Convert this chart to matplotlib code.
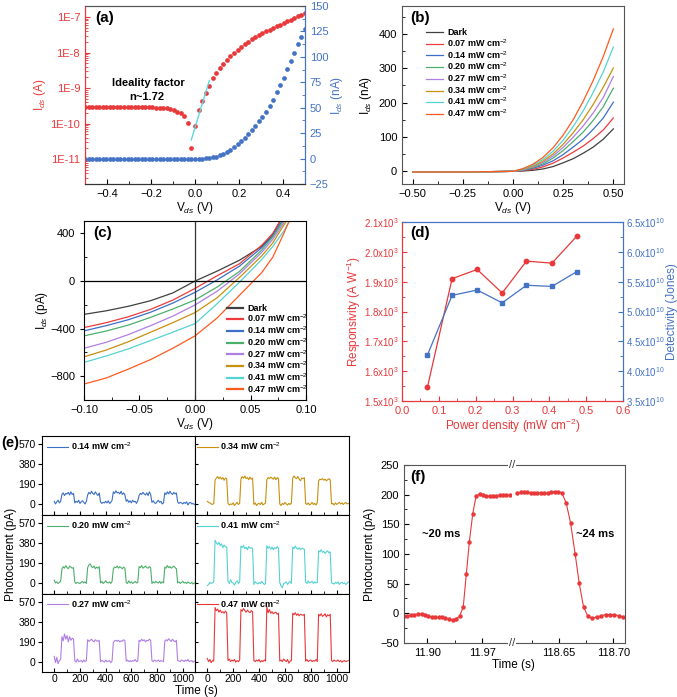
import numpy as np
import matplotlib
matplotlib.use('Agg')
import matplotlib.pyplot as plt
from matplotlib.ticker import MultipleLocator, FixedLocator, FuncFormatter, LogLocator, NullFormatter

plt.rcParams['font.family'] = ['Liberation Sans', 'DejaVu Sans']
plt.rcParams['mathtext.fontset'] = 'custom'
plt.rcParams['mathtext.rm'] = 'Liberation Sans'
plt.rcParams['mathtext.it'] = 'Liberation Sans:italic'
plt.rcParams['mathtext.bf'] = 'Liberation Sans:bold'
plt.rcParams['font.size'] = 8
plt.rcParams['axes.linewidth'] = 0.8

# ---------------- data ----------------
# (a) diode curve, log |I| (A) and linear I (nA), 63 points from -0.5 V to 0.5 V
a_log = [-9.52, -9.53, -9.53, -9.52, -9.53, -9.53, -9.53, -9.52, -9.53, -9.53, -9.53,
         -9.52, -9.52, -9.52, -9.52, -9.53, -9.53, -9.53, -9.54, -9.54, -9.55, -9.56,
         -9.56, -9.57, -9.59, -9.62, -9.66, -9.71, -9.80, -9.99, -10.69,
         -10.06, -9.62, -9.35, -9.14, -8.95, -8.72, -8.57, -8.44, -8.31, -8.20, -8.11,
         -8.01, -7.92, -7.84, -7.76, -7.69, -7.63, -7.56, -7.51, -7.45, -7.40, -7.36,
         -7.31, -7.26, -7.22, -7.17, -7.12, -7.08, -7.03, -6.98, -6.93, -6.89]
a_lin = [0] * 34 + [0.3, 0.6, 1.2, 2.0, 3.1, 4.4, 6.0, 8.3, 11.0, 14.0, 17.0, 20.5, 24.0,
                    28.0, 32.0, 36.5, 41.0, 45.5, 51.5, 58.0, 65.0, 72.0, 79.5, 88.0,
                    96.0, 104.0, 113.0, 120.0, 127.0]
fit_v = [-0.017, 0.065]
fit_log = [-10.46, -8.79]

# (b) I-V under light (nA)
labels = ['Dark', '0.07 mW cm$^{-2}$', '0.14 mW cm$^{-2}$', '0.20 mW cm$^{-2}$',
          '0.27 mW cm$^{-2}$', '0.34 mW cm$^{-2}$', '0.41 mW cm$^{-2}$', '0.47 mW cm$^{-2}$']
colors = ['#404040', '#ee3b3b', '#3b6fc8', '#4caf6c', '#b07fe4', '#c8900c', '#55d2d2', '#ff5a1e']
b_v = [-0.5, -0.25, 0.0, 0.05, 0.10, 0.15, 0.20, 0.25, 0.30, 0.35, 0.40, 0.45, 0.50]
b_i = [
    [-3, -3, -1, 0, 2, 6, 13, 24, 36, 52, 70, 93, 123],
    [-3, -3, -1, 1, 5, 12, 23, 38, 55, 73, 95, 120, 155],
    [-3, -3, -1, 2, 8, 17, 30, 48, 70, 93, 122, 155, 201],
    [-3, -3, -1, 3, 10, 21, 38, 60, 86, 114, 148, 188, 242],
    [-3, -3, -1, 4, 12, 25, 44, 69, 99, 132, 170, 215, 276],
    [-3, -3, -1, 5, 14, 29, 50, 78, 112, 150, 195, 245, 301],
    [-3, -3, -1, 6, 17, 34, 58, 90, 130, 176, 230, 290, 362],
    [-3, -3, -1, 7, 20, 40, 68, 105, 150, 204, 265, 335, 415],
]

# (c) zoom near zero bias (pA)
c_v = [-0.10, -0.08, -0.06, -0.04, -0.02, 0.0, 0.02, 0.04, 0.06, 0.07, 0.08, 0.09]
c_i = [
    [-280, -250, -212, -165, -100, 0, 84, 175, 290, 390, 560, 700],
    [-391, -350, -300, -238, -160, -62, 45, 145, 300, 400, 560, 700],
    [-419, -375, -325, -262, -185, -95, 10, 125, 280, 380, 530, 700],
    [-461, -420, -370, -305, -235, -159, -50, 80, 260, 370, 510, 700],
    [-565, -515, -450, -375, -295, -201, -85, 60, 240, 350, 490, 640],
    [-637, -580, -510, -430, -350, -265, -140, 30, 210, 320, 470, 620],
    [-684, -630, -570, -500, -430, -358, -190, -10, 180, 290, 420, 580],
    [-866, -815, -740, -660, -565, -461, -310, -120, 70, 200, 400, 620],
]

# (d) responsivity and detectivity
d_p = [0.069, 0.136, 0.204, 0.272, 0.338, 0.407, 0.475]
d_resp = [1546, 1910, 1941, 1862, 1969, 1962, 2053]
d_det = [4.27e10, 5.27e10, 5.36e10, 5.145e10, 5.44e10, 5.42e10, 5.67e10]

# (e) on/off photocurrent (pA), one sample every 10 s from 0 to 1090 s
e_t = np.arange(0, 1100, 10)
e_014 = [30, 5, 25, 40, 15, 30, 95, 110, 85, 105,
         100, 115, 90, 120, 95, 105, 15, 30, 20, 40,
         10, 25, 35, 20, 5, 30, 90, 115, 100, 125,
         105, 95, 120, 100, 85, 110, 25, 10, 20, 15,
         30, 15, 35, 10, 20, 40, 120, 105, 130, 110,
         115, 100, 125, 95, 110, 90, 30, 45, 20, 35,
         15, 40, 25, 30, 10, 35, 85, 105, 95, 115,
         100, 90, 110, 85, 120, 95, 20, 35, 15, 10,
         25, 40, 20, 30, 5, 15, 110, 95, 120, 100,
         125, 105, 95, 115, 100, 110, 25, 10, 20, 15,
         5, 20, 10, 25, -5, 15, 20, 5, 10, 0]
e_034 = [30, 20, 15, 5, 0, 10, 230, 250, 265, 245,
         260, 240, 255, 230, 250, 245, 10, -5, 5, 0,
         15, -10, 5, 20, 0, 10, 240, 265, 250, 270,
         245, 255, 235, 260, 240, 250, 0, 15, -10, 5,
         10, 0, 20, -5, 5, 15, 235, 255, 245, 260,
         250, 240, 260, 235, 255, 245, 5, -10, 10, 0,
         20, 5, -5, 10, 0, 15, 250, 270, 255, 245,
         265, 240, 225, 250, 245, 255, 10, 0, 15, -5,
         5, 20, 0, 10, -5, 15, 225, 240, 235, 245,
         230, 240, 225, 235, 245, 230, 5, 10, -5, 15,
         0, 10, 20, 5, 15, 0, 10, 20, 5, 10]
e_020 = [30, 5, 15, 0, 10, 20, 135, 160, 145, 170,
         150, 140, 165, 155, 145, 150, 15, 0, 10, 5,
         0, 10, 20, 5, 15, 0, 150, 175, 185, 160,
         150, 165, 140, 155, 145, 160, 5, 20, 0, 10,
         25, 10, 5, 15, 0, 20, 140, 155, 150, 165,
         145, 160, 150, 140, 155, 145, 10, 0, 25, 5,
         15, 0, 10, 20, 5, 10, 160, 150, 170, 145,
         155, 165, 150, 145, 160, 150, 0, 15, 5, 20,
         10, 5, 20, 0, 15, 5, 155, 145, 170, 150,
         160, 145, 155, 165, 150, 140, 5, 15, 0, 10,
         20, 5, 10, 0, 15, 5, 0, 10, -5, 5]
e_041 = [-20, -10, 10, 0, 5, 15, 410, 385, 370, 390,
         360, 375, 340, 365, 350, 345, 20, 0, 35, 10,
         5, -15, 10, 25, 0, 15, 355, 340, 360, 330,
         345, 320, 350, 335, 340, 330, -10, 15, 5, -5,
         10, 0, 20, 5, -10, 0, 360, 335, 350, 325,
         345, 320, 340, 330, 350, 335, 10, -25, -40, 0,
         5, 15, -10, 10, 20, 0, 345, 330, 355, 335,
         325, 340, 320, 335, 330, 325, 15, 0, 25, 5,
         10, 20, 0, 15, 5, 10, 310, 300, 320, 295,
         305, 285, 300, 310, 290, 300, 5, 0, -5, 10,
         0, 15, -10, 5, 10, 0, 5, -10, 0, 15]
e_027 = [50, -10, 40, -20, 10, 20, 240, 200, 265, 215,
         250, 190, 240, 205, 225, 215, 10, -5, 25, 0,
         5, 10, -5, 15, 0, 10, 210, 195, 205, 215,
         200, 190, 210, 200, 195, 205, 0, 10, 5, -5,
         15, 0, 5, 10, -10, 5, 185, 200, 205, 195,
         205, 190, 200, 195, 210, 200, 5, 15, 0, 10,
         0, 10, 5, 20, 0, 5, 205, 195, 215, 200,
         210, 190, 205, 200, 215, 205, 10, 0, 15, 5,
         5, 15, 0, 10, 5, 0, 195, 210, 200, 220,
         205, 195, 215, 200, 190, 205, 10, 5, 0, 15,
         10, 0, 15, 5, 20, 0, 5, 10, -5, 5]
e_047 = [30, 0, 20, -10, 10, 5, 520, 490, 505, 475,
         495, 470, 480, 465, 485, 470, 10, 25, 0, 15,
         5, 20, -5, 10, 0, 15, 500, 485, 510, 490,
         475, 495, 480, 470, 490, 480, 10, 0, 15, 5,
         20, -5, 10, 0, 15, 5, 530, 470, 500, 465,
         480, 460, 470, 475, 455, 465, 5, 15, 0, 25,
         10, 0, 20, -15, 5, 10, 465, 450, 470, 445,
         460, 440, 455, 450, 445, 455, 5, 20, 0, 10,
         15, 0, 10, 5, 20, 0, 455, 440, 460, 435,
         445, 460, 430, 450, 440, 455, 10, 0, 15, 5,
         5, 15, 0, 10, -5, 5, 10, 0, 5, 10]

# (f) rise / fall (s, pA)
f_t1 = [11.8704, 11.8747, 11.8790, 11.8837, 11.8884, 11.8927, 11.8970, 11.9013, 11.9056,
        11.9103, 11.9146, 11.9189, 11.9232, 11.9279, 11.9322, 11.9365, 11.9412, 11.9459,
        11.9498, 11.9537, 11.9580, 11.9623, 11.9666, 11.9708, 11.9751, 11.9794, 11.9837,
        11.9880, 11.9923, 11.9966, 12.0009, 12.0052]
f_i1 = [-4, -4, -3, -2, -1, -1, -2, -4, -6, -7, -7, -7, -8, -10, -11, -9, -5, 11, 66, 121,
        168, 198, 201, 200, 198, 197, 197, 198, 199, 199, 199, 199]
f_t2 = [118.6114, 118.6145, 118.6176, 118.6207, 118.6238, 118.6269, 118.6299, 118.6330,
        118.6361, 118.6395, 118.6426, 118.6460, 118.6491, 118.6525, 118.6565, 118.6605,
        118.6648, 118.6685, 118.6725, 118.6765, 118.6806, 118.6846, 118.6889, 118.6929,
        118.6969, 118.7009, 118.7049, 118.7093]
f_i2 = [203, 204, 204, 204, 203, 203, 203, 203, 202, 203, 204, 205, 205, 203, 186, 153, 100,
        51, 11, -5, -8, -6, -4, -2, -2, -2, -4, -6]

# ---------------- figure ----------------
RED = '#e8383a'
BLUE = '#4472c4'
FRAME = '#555555'
W, H = 677, 697
fig = plt.figure(figsize=(W / 100, H / 100), dpi=100)


def box(x0, y0, x1, y1):
    return [x0 / W, 1 - y1 / H, (x1 - x0) / W, (y1 - y0) / H]


def fp(x, y):
    return x / W, 1 - y / H


def mfmt(fmt):
    def f(v, p):
        if abs(v) < 1e-12:
            v = 0.0
        return (fmt % v).replace('-', '\u2212')
    return FuncFormatter(f)


leg_font = {'weight': 'bold', 'size': 6.5}

# ---- (a) ----
ax = fig.add_axes(box(85, 6, 305, 184))
va = np.linspace(-0.5, 0.5, len(a_log))
ax.semilogy(va, 10.0 ** np.array(a_log), 'o', color=RED, ms=3.4, mew=0)
ax.plot(fit_v, 10.0 ** np.array(fit_log), color='#5fd6e2', lw=1)
ax.set_xlim(-0.5, 0.5)
ax.set_ylim(10 ** -11.7, 10 ** -6.69)
ax.set_yticks([1e-11, 1e-10, 1e-9, 1e-8, 1e-7])
ax.set_yticklabels(['1E-11', '1E-10', '1E-9', '1E-8', '1E-7'])
ax.yaxis.set_minor_locator(LogLocator(subs=np.arange(2, 10)))
ax.yaxis.set_minor_formatter(NullFormatter())
ax.xaxis.set_major_locator(MultipleLocator(0.2))
ax.xaxis.set_minor_locator(MultipleLocator(0.1))
ax.xaxis.set_major_formatter(mfmt('%.1f'))
ax.tick_params(axis='y', which='both', direction='in', colors=RED)
ax.tick_params(axis='x', which='both', direction='in')
ax.set_ylabel('I$_{ds}$ (A)', color=RED, fontsize=8.5, labelpad=2)
ax.set_xlabel('V$_{ds}$ (V)', fontsize=8.5, labelpad=1)
ax.text(0.045, 0.935, '(a)', transform=ax.transAxes, fontsize=11, fontweight='bold', va='center')
ax.text(0.289, 0.569, 'Ideality factor', transform=ax.transAxes, fontsize=8, fontweight='bold',
        ha='center', va='center')
ax.text(0.28, 0.49, 'n~1.72', transform=ax.transAxes, fontsize=8, fontweight='bold',
        ha='center', va='center')
ax2 = ax.twinx()
ax2.plot(va, a_lin, 'o', color=BLUE, ms=3.4, mew=0)
ax2.set_ylim(-25, 150)
ax2.yaxis.set_major_locator(MultipleLocator(25))
ax2.yaxis.set_minor_locator(MultipleLocator(12.5))
ax2.yaxis.set_major_formatter(mfmt('%d'))
ax2.tick_params(axis='y', which='both', direction='in', colors=BLUE)
ax2.set_ylabel('I$_{ds}$ (nA)', color=BLUE, fontsize=8.5, labelpad=0)
for a in (ax, ax2):
    a.spines['left'].set_color(RED)
    a.spines['right'].set_color(BLUE)
    a.spines['top'].set_color(FRAME)
    a.spines['bottom'].set_color('#333333')

# ---- (b) ----
ax = fig.add_axes(box(402, 6, 624, 184))
for i in range(len(labels)):
    ax.plot(b_v, b_i[i], color=colors[i], lw=0.9, label=labels[i])
ax.set_xlim(-0.553, 0.553)
ax.set_ylim(-38, 482)
ax.xaxis.set_major_locator(MultipleLocator(0.25))
ax.xaxis.set_minor_locator(MultipleLocator(0.125))
ax.yaxis.set_major_locator(MultipleLocator(100))
ax.yaxis.set_minor_locator(MultipleLocator(50))
ax.xaxis.set_major_formatter(mfmt('%.2f'))
ax.tick_params(which='both', direction='in')
ax.set_ylabel('I$_{ds}$ (nA)', fontsize=8.5, labelpad=3)
ax.set_xlabel('V$_{ds}$ (V)', fontsize=8.5, labelpad=1)
for s in ax.spines.values():
    s.set_color(FRAME)
ax.text(0.035, 0.935, '(b)', transform=ax.transAxes, fontsize=11, fontweight='bold', va='center')
ax.legend(loc='upper left', bbox_to_anchor=(0.11, 0.875), frameon=False, prop=leg_font,
          handlelength=1.8, handletextpad=0.5, labelspacing=0.0, borderpad=0, borderaxespad=0)

# ---- (c) ----
ax = fig.add_axes(box(84, 221, 306, 400))
for i in range(len(labels)):
    ax.plot(c_v, c_i[i], color=colors[i], lw=0.9, label=labels[i])
ax.axhline(0, color='black', lw=0.9)
ax.axvline(0, color='#333333', lw=0.9)
ax.set_xlim(-0.1, 0.1)
ax.set_ylim(-1000, 505)
ax.xaxis.set_major_locator(MultipleLocator(0.05))
ax.xaxis.set_minor_locator(MultipleLocator(0.025))
ax.yaxis.set_major_locator(FixedLocator([-800, -400, 0, 400]))
ax.yaxis.set_minor_locator(MultipleLocator(200))
ax.xaxis.set_major_formatter(mfmt('%.2f'))
ax.yaxis.set_major_formatter(mfmt('%d'))
ax.tick_params(axis='y', which='major', direction='out', length=3)
ax.tick_params(axis='x', which='major', direction='in')
ax.tick_params(which='minor', direction='in')
ax.set_ylabel('I$_{ds}$ (pA)', fontsize=8.5, labelpad=0)
ax.set_xlabel('V$_{ds}$ (V)', fontsize=8.5, labelpad=1)
ax.text(0.04, 0.935, '(c)', transform=ax.transAxes, fontsize=11, fontweight='bold', va='center')
leg = ax.legend(loc='lower left', bbox_to_anchor=(0.645, 0.03), frameon=False, prop=leg_font,
                handlelength=1.8, handletextpad=0.4, labelspacing=0.0, borderpad=0,
                borderaxespad=0)
for h in leg.get_lines():
    h.set_linewidth(1.6)

# ---- (d) ----
ax = fig.add_axes(box(402, 222, 623, 401))
ax.plot(d_p, d_resp, 'o-', color=RED, ms=3.2, lw=0.9)
ax.set_xlim(0, 0.6)
ax.set_ylim(1500, 2100)
ax.xaxis.set_major_locator(MultipleLocator(0.1))
ax.xaxis.set_minor_locator(MultipleLocator(0.05))
ax.xaxis.set_major_formatter(mfmt('%.1f'))
ax.yaxis.set_major_locator(MultipleLocator(100))
ax.yaxis.set_minor_locator(MultipleLocator(50))
ax.yaxis.set_major_formatter(FuncFormatter(lambda v, p: '%.1fx10$^3$' % (v / 1e3)))
ax.tick_params(which='both', direction='in', colors=RED)
ax.tick_params(axis='y', labelsize=7, pad=2)
ax.set_ylabel('Responsivity (A W$^{-1}$)', color=RED, fontsize=8.5, labelpad=1)
ax.set_xlabel('Power density (mW cm$^{-2}$)', color=RED, fontsize=8.5, labelpad=1)
ax.text(0.036, 0.94, '(d)', transform=ax.transAxes, fontsize=11, fontweight='bold', va='center')
ax2 = ax.twinx()
ax2.plot(d_p, d_det, 's-', color=BLUE, ms=3.0, lw=0.9)
ax2.set_ylim(3.5e10, 6.5e10)
ax2.yaxis.set_major_locator(MultipleLocator(0.5e10))
ax2.yaxis.set_minor_locator(MultipleLocator(0.25e10))
ax2.yaxis.set_major_formatter(FuncFormatter(lambda v, p: '%.1fx10$^{10}$' % (v / 1e10)))
ax2.tick_params(axis='y', which='both', direction='in', colors=BLUE, labelsize=7, pad=2)
ax2.set_ylabel('Detectivity (Jones)', color=BLUE, fontsize=8.5, labelpad=1)
for a in (ax, ax2):
    a.spines['left'].set_color(RED)
    a.spines['bottom'].set_color(RED)
    a.spines['right'].set_color(BLUE)
    a.spines['top'].set_color(BLUE)

# ---- (e) ----
e_panels = [
    (0, 0, e_014, colors[2], labels[2]),
    (0, 1, e_034, colors[5], labels[5]),
    (1, 0, e_020, colors[3], labels[3]),
    (1, 1, e_041, colors[6], labels[6]),
    (2, 0, e_027, colors[4], labels[4]),
    (2, 1, e_047, '#e8383a', labels[7]),
]
col_x = [(42, 195), (195, 349)]
row_y = [(436, 515), (515, 594), (594, 672)]
for r, c, vals, col, lab in e_panels:
    x0, x1 = col_x[c]
    y0, y1 = row_y[r]
    ax = fig.add_axes(box(x0, y0, x1, y1))
    ax.plot(e_t, vals, color=col, lw=0.8, label=lab)
    ax.set_xlim(-95, 1095)
    ax.set_ylim(-100, 650)
    ax.yaxis.set_major_locator(FixedLocator([0, 190, 380, 570]))
    ax.xaxis.set_major_locator(MultipleLocator(200))
    ax.xaxis.set_minor_locator(MultipleLocator(100))
    ax.tick_params(axis='x', which='both', direction='in', length=3)
    ax.tick_params(axis='x', which='minor', length=2)
    if c == 0:
        ax.tick_params(axis='y', direction='out', length=3, pad=1.5, labelsize=7.5)
    else:
        ax.tick_params(axis='y', direction='in', length=2, labelleft=False)
    if r < 2:
        ax.tick_params(axis='x', labelbottom=False)
    else:
        ax.tick_params(axis='x', pad=1.5, labelsize=7.5)
    ax.legend(loc='center left', bbox_to_anchor=(0.033 if c == 0 else 0.013, 0.875),
              frameon=False, prop=leg_font, handlelength=2.3, handletextpad=0.3,
              borderpad=0, borderaxespad=0)
fig.text(*fp(1, 443), '(e)', fontsize=10.5, fontweight='bold', va='center', ha='left')
fig.text(*fp(11, 554), 'Photocurrent (pA)', rotation=90, fontsize=8.5, ha='center', va='center')
fig.text(*fp(196, 691), 'Time (s)', fontsize=8.5, ha='center', va='center')

# ---- (f) ----
axl = fig.add_axes(box(404, 465, 512, 643))
axr = fig.add_axes(box(512, 465, 625, 643))
axl.plot(f_t1, f_i1, 'o-', color=RED, ms=3.2, lw=0.8, mew=0)
axr.plot(f_t2, f_i2, 'o-', color=RED, ms=3.2, lw=0.8, mew=0)
axl.set_xlim(11.8704, 12.008)
axr.set_xlim(118.6065, 118.7108)
for a in (axl, axr):
    a.set_ylim(-50, 250)
    for s in a.spines.values():
        s.set_color(FRAME)
    a.tick_params(which='both', direction='in')
axl.spines['right'].set_visible(False)
axr.spines['left'].set_visible(False)
axl.set_xticks([11.90, 11.97])
axl.set_xticklabels(['11.90', '11.97'])
axl.xaxis.set_minor_locator(FixedLocator([11.935]))
axr.set_xticks([118.65, 118.70])
axr.set_xticklabels(['118.65', '118.70'])
axr.xaxis.set_minor_locator(FixedLocator([118.625, 118.675]))
axl.yaxis.set_major_locator(MultipleLocator(50))
axl.yaxis.set_minor_locator(MultipleLocator(25))
axl.yaxis.set_major_formatter(mfmt('%d'))
axr.tick_params(axis='y', which='both', left=False, labelleft=False)
axl.set_ylabel('Photocurrent (pA)', fontsize=8.5, labelpad=3)
fig.text(*fp(513, 665), 'Time (s)', fontsize=8.5, ha='center', va='center')
for yb in (465, 643):
    fig.text(*fp(512, yb), '//', fontsize=8, ha='center', va='center', color='#333333',
             bbox=dict(facecolor='white', edgecolor='none', pad=0.3))
fig.text(*fp(410, 477), '(f)', fontsize=11, fontweight='bold', va='center', ha='left')
fig.text(*fp(441, 534), '~20 ms', fontsize=8, fontweight='bold', va='center', ha='center')
fig.text(*fp(595, 534), '~24 ms', fontsize=8, fontweight='bold', va='center', ha='center')

fig.savefig('out.png', dpi=100)
